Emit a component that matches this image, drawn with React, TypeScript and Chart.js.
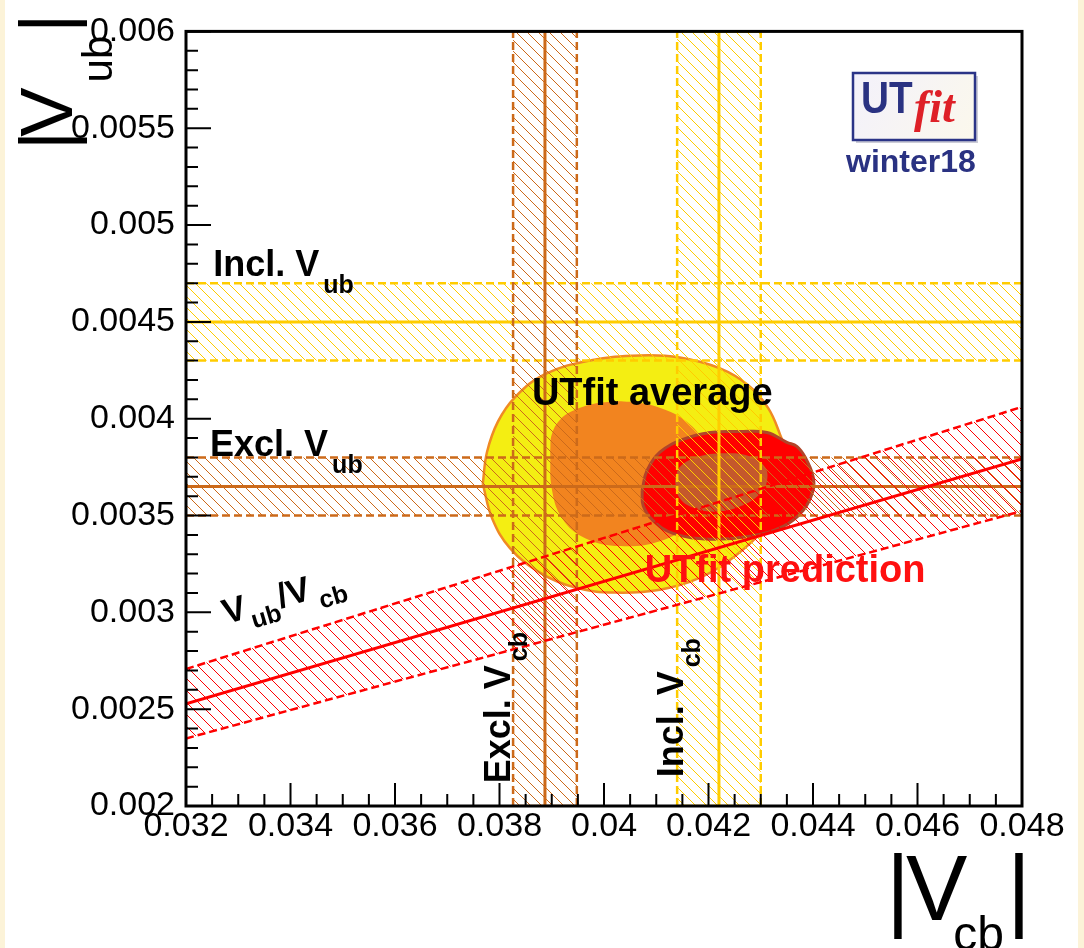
import React, { useEffect, useRef } from "react";
import { Chart, registerables } from "chart.js";

Chart.register(...registerables);

const W = 1084;
const H = 948;
const SANS = "'Liberation Sans', Arial, Helvetica, sans-serif";
const SERIF = "'Liberation Serif', 'Times New Roman', serif";

// Axis ranges and ticks
const X_RANGE = [0.032, 0.048];
const Y_RANGE = [0.002, 0.006];
const X_TICKS = [0.032, 0.034, 0.036, 0.038, 0.04, 0.042, 0.044, 0.046, 0.048];
const X_TICK_LABELS = ["0.032", "0.034", "0.036", "0.038", "0.04", "0.042", "0.044", "0.046", "0.048"];
const Y_TICKS = [0.002, 0.0025, 0.003, 0.0035, 0.004, 0.0045, 0.005, 0.0055, 0.006];
const Y_TICK_LABELS = ["0.002", "0.0025", "0.003", "0.0035", "0.004", "0.0045", "0.005", "0.0055", "0.006"];
const X_MINOR_STEP = 0.0005;
const Y_MINOR_STEP = 0.0001;

// |Vcb| determinations: [central, lower, upper]
const INCL_VCB = [0.0422, 0.0414, 0.043];
const EXCL_VCB = [0.03887, 0.03826, 0.03948];
// |Vub| determinations: [central, lower, upper]
const INCL_VUB = [0.0045, 0.0043, 0.0047];
const EXCL_VUB = [0.00365, 0.0035, 0.0038];
// |Vub|/|Vcb| ratio: [central, lower, upper]
const VUB_VCB_RATIO = [0.079, 0.0734, 0.0846];

// UTfit average, 95% and 68% probability contours (|Vcb|, |Vub|)
const AVG_95: [number, number][] = [
  [0.03768, 0.003663], [0.03776, 0.003827], [0.03797, 0.003985], [0.0383, 0.004112],
  [0.03887, 0.00423], [0.03973, 0.004301], [0.04069, 0.004327], [0.04145, 0.004316],
  [0.04222, 0.00426], [0.04276, 0.004173], [0.04314, 0.004056], [0.04337, 0.003918],
  [0.04356, 0.003765], [0.04346, 0.003587], [0.04308, 0.003434], [0.04251, 0.003291],
  [0.04184, 0.003179], [0.04107, 0.003117], [0.04021, 0.003102], [0.03945, 0.003128],
  [0.03878, 0.003204], [0.0382, 0.003332], [0.03786, 0.003485],
];
const AVG_68: [number, number][] = [
  [0.03897, 0.003832], [0.039, 0.003918], [0.03916, 0.003995], [0.03945, 0.004046],
  [0.03992, 0.004082], [0.0405, 0.004087], [0.04117, 0.004046], [0.04165, 0.003969],
  [0.04193, 0.003867], [0.04207, 0.00374], [0.04199, 0.003587], [0.04165, 0.003459],
  [0.04107, 0.003367], [0.04031, 0.003342], [0.03964, 0.003383], [0.0392, 0.003485],
  [0.039, 0.003638],
];
// UTfit prediction, 95% and 68% probability contours
const PRED_95: [number, number][] = [
  [0.04073, 0.003628], [0.04082, 0.00373], [0.04107, 0.003827], [0.04151, 0.003893],
  [0.04203, 0.003929], [0.0426, 0.003934], [0.04312, 0.003929], [0.0435, 0.003878],
  [0.04369, 0.003857], [0.04385, 0.003801], [0.044, 0.003704], [0.044, 0.003628],
  [0.04381, 0.003526], [0.04343, 0.003444], [0.04279, 0.003393], [0.04203, 0.003378],
  [0.04132, 0.003408], [0.04094, 0.003474], [0.04075, 0.003551],
];
const PRED_68: [number, number][] = [
  [0.04136, 0.003679], [0.04145, 0.00375], [0.04178, 0.003801], [0.04228, 0.003821],
  [0.04279, 0.003806], [0.04308, 0.00375], [0.04312, 0.003679], [0.04299, 0.003612],
  [0.0426, 0.003546], [0.04209, 0.00352], [0.04165, 0.003546], [0.04142, 0.003602],
];

const COL_INCL = "#ffcc00";
const COL_EXCL = "#cc6a1a";
const COL_RATIO = "#ff0000";

type Pt = { x: number; y: number };
const toPts = (arr: [number, number][]): Pt[] => arr.map(([x, y]) => ({ x, y }));
const closed = (pts: Pt[]): Pt[] => [...pts, pts[0]];

// Diagonal "\\\" hatching used for the measurement bands
function hatch(color: string, step = 11): CanvasPattern | string {
  const c = document.createElement("canvas");
  c.width = step;
  c.height = step;
  const g = c.getContext("2d");
  if (!g) return color;
  g.strokeStyle = color;
  g.lineWidth = 1;
  g.beginPath();
  g.moveTo(0, 0);
  g.lineTo(step, step);
  g.moveTo(-1, step - 1);
  g.lineTo(1, step + 1);
  g.moveTo(step - 1, -1);
  g.lineTo(step + 1, 1);
  g.stroke();
  return g.createPattern(c, "repeat") || color;
}

function shape(pts: Pt[], bg: any, border: string, width: number, tension: number) {
  return {
    data: closed(pts),
    fill: "shape",
    backgroundColor: bg,
    borderColor: border,
    borderWidth: width,
    tension,
  };
}

function seg(pts: Pt[], color: string, width: number, dash: number[] = []) {
  return { data: pts, fill: false, borderColor: color, borderWidth: width, borderDash: dash };
}

function verticalBand([c, lo, hi]: number[], color: string) {
  const [y0, y1] = Y_RANGE;
  return [
    shape([{ x: lo, y: y0 }, { x: hi, y: y0 }, { x: hi, y: y1 }, { x: lo, y: y1 }], hatch(color), color, 0, 0),
    seg([{ x: lo, y: y0 }, { x: lo, y: y1 }], color, 2.5, [8, 4]),
    seg([{ x: hi, y: y0 }, { x: hi, y: y1 }], color, 2.5, [8, 4]),
    seg([{ x: lo, y: y0 }, { x: hi, y: y0 }], color, 2.5),
    seg([{ x: lo, y: y1 }, { x: hi, y: y1 }], color, 2.5),
    seg([{ x: c, y: y0 }, { x: c, y: y1 }], color, 3),
  ];
}

function horizontalBand([c, lo, hi]: number[], color: string) {
  const [x0, x1] = X_RANGE;
  return [
    shape([{ x: x0, y: lo }, { x: x1, y: lo }, { x: x1, y: hi }, { x: x0, y: hi }], hatch(color), color, 0, 0),
    seg([{ x: x0, y: lo }, { x: x1, y: lo }], color, 2.5, [8, 4]),
    seg([{ x: x0, y: hi }, { x: x1, y: hi }], color, 2.5, [8, 4]),
    seg([{ x: x0, y: c }, { x: x1, y: c }], color, 3),
  ];
}

function ratioBand([c, lo, hi]: number[], color: string) {
  const [x0, x1] = X_RANGE;
  return [
    shape([{ x: x0, y: x0 * lo }, { x: x1, y: x1 * lo }, { x: x1, y: x1 * hi }, { x: x0, y: x0 * hi }], hatch(color, 12), color, 0, 0),
    seg([{ x: x0, y: x0 * lo }, { x: x1, y: x1 * lo }], color, 2.5, [8, 4]),
    seg([{ x: x0, y: x0 * hi }, { x: x1, y: x1 * hi }], color, 2.5, [8, 4]),
    seg([{ x: x0, y: x0 * c }, { x: x1, y: x1 * c }], color, 3),
  ];
}

interface Piece { t: string; sub?: boolean; dx?: number }
interface RichStyle { size: number; subSize: number; drop: number; weight: string; color: string; family?: string }

// Text with subscripts, drawn along a rotated baseline
function drawRich(ctx: CanvasRenderingContext2D, pieces: Piece[], x: number, y: number, angle: number, s: RichStyle) {
  ctx.save();
  ctx.translate(x, y);
  ctx.rotate(angle);
  ctx.fillStyle = s.color;
  ctx.textAlign = "left";
  ctx.textBaseline = "alphabetic";
  let cx = 0;
  for (const p of pieces) {
    ctx.font = `${s.weight} ${p.sub ? s.subSize : s.size}px ${s.family ?? SANS}`;
    cx += p.dx ?? 0;
    ctx.fillText(p.t, cx, p.sub ? s.drop : 0);
    cx += ctx.measureText(p.t).width;
  }
  ctx.restore();
}

const BAND_LABEL: RichStyle = { size: 36, subSize: 25, drop: 17, weight: "bold", color: "#000" };

const isOn = (v: number, list: number[], step: number) => list.some((t) => Math.abs(t - v) < step / 10);

const framePlugin = {
  id: "frameAndLabels",
  beforeDraw(chart: any) {
    const { ctx } = chart;
    ctx.save();
    ctx.fillStyle = "#ffffff";
    ctx.fillRect(0, 0, W, H);
    ctx.fillStyle = "#fcf3d8";
    ctx.fillRect(0, 0, 5, H);
    ctx.fillRect(W - 6, 0, 6, H);
    ctx.restore();
  },
  afterDatasetsDraw(chart: any) {
    const { ctx, chartArea: a, scales } = chart;
    const xs = scales.x;
    const ys = scales.y;
    ctx.save();
    ctx.strokeStyle = "#000";
    ctx.lineWidth = 2;
    ctx.beginPath();
    const ny = Math.round((Y_RANGE[1] - Y_RANGE[0]) / Y_MINOR_STEP);
    for (let i = 0; i <= ny; i++) {
      const v = Y_RANGE[0] + i * Y_MINOR_STEP;
      const len = isOn(v, Y_TICKS, Y_MINOR_STEP) ? 25 : 12;
      const p = ys.getPixelForValue(v);
      ctx.moveTo(a.left, p);
      ctx.lineTo(a.left + len, p);
    }
    const nx = Math.round((X_RANGE[1] - X_RANGE[0]) / X_MINOR_STEP);
    for (let i = 0; i <= nx; i++) {
      const v = X_RANGE[0] + i * X_MINOR_STEP;
      const len = isOn(v, X_TICKS, X_MINOR_STEP) ? 23 : 12;
      const p = xs.getPixelForValue(v);
      ctx.moveTo(p, a.bottom);
      ctx.lineTo(p, a.bottom - len);
    }
    ctx.stroke();
    ctx.lineWidth = 3;
    ctx.strokeRect(a.left, a.top, a.right - a.left, a.bottom - a.top);
    ctx.restore();

    const px = (v: number) => xs.getPixelForValue(v);
    const py = (v: number) => ys.getPixelForValue(v);

    drawRich(ctx, [{ t: "Incl. V" }, { t: "ub", sub: true, dx: 4 }], px(0.03252), py(0.004735), 0, BAND_LABEL);
    drawRich(ctx, [{ t: "Excl. V" }, { t: "ub", sub: true, dx: 4 }], px(0.03246), py(0.003806), 0, BAND_LABEL);
    drawRich(ctx, [{ t: "Excl. V" }, { t: "cb", sub: true, dx: 4 }], px(0.0382), py(0.002117), -Math.PI / 2, BAND_LABEL);
    drawRich(ctx, [{ t: "Incl. V" }, { t: "cb", sub: true, dx: 4 }], px(0.04151), py(0.002148), -Math.PI / 2, BAND_LABEL);

    const r = VUB_VCB_RATIO[0];
    const ang = Math.atan2(py(X_RANGE[1] * r) - py(X_RANGE[0] * r), px(X_RANGE[1]) - px(X_RANGE[0]));
    drawRich(
      ctx,
      [{ t: "V" }, { t: "ub", sub: true, dx: 2 }, { t: "/V", dx: 1 }, { t: "cb", sub: true, dx: 6 }],
      px(0.03277), py(0.002939), ang,
      { size: 35, subSize: 25, drop: 12, weight: "bold", color: "#000" }
    );

    drawRich(ctx, [{ t: "UTfit average" }], px(0.03862), py(0.004071), 0,
      { size: 38, subSize: 25, drop: 0, weight: "bold", color: "#000" });
    drawRich(ctx, [{ t: "UTfit prediction" }], px(0.04078), py(0.003158), 0,
      { size: 38, subSize: 25, drop: 0, weight: "bold", color: "#ff1010" });
  },
  afterDraw(chart: any) {
    const { ctx } = chart;
    // axis titles
    drawRich(ctx, [{ t: "|" }, { t: "V", dx: -6 }, { t: "ub", sub: true, dx: 5 }, { t: "|", dx: 3 }], 72, 150, -Math.PI / 2,
      { size: 74, subSize: 42, drop: 40, weight: "normal", color: "#000" });
    drawRich(ctx, [{ t: "|" }, { t: "V", dx: -4 }, { t: "cb", sub: true, dx: -14 }, { t: "|", dx: 3 }], 886, 920, 0,
      { size: 92, subSize: 48, drop: 30, weight: "normal", color: "#000" });

    // UTfit logo
    ctx.save();
    ctx.fillStyle = "rgba(110,110,140,0.35)";
    ctx.fillRect(856, 76, 122, 67);
    const grad = ctx.createLinearGradient(853, 73, 975, 140);
    grad.addColorStop(0, "#f3f1fb");
    grad.addColorStop(1, "#fbf8ec");
    ctx.fillStyle = grad;
    ctx.fillRect(853, 73, 122, 67);
    ctx.strokeStyle = "#2b3487";
    ctx.lineWidth = 2.5;
    ctx.strokeRect(853, 73, 122, 67);
    ctx.fillStyle = "#2a3282";
    ctx.textAlign = "left";
    ctx.textBaseline = "alphabetic";
    ctx.save();
    ctx.translate(861, 113);
    ctx.scale(0.86, 1);
    ctx.font = `bold 45px ${SANS}`;
    ctx.fillText("UT", 0, 0);
    ctx.restore();
    ctx.fillStyle = "#de2027";
    ctx.font = `italic bold 46px ${SERIF}`;
    ctx.fillText("fit", 914, 122);
    ctx.fillStyle = "#2a3282";
    ctx.font = `bold 32px ${SANS}`;
    ctx.fillText("winter18", 846, 172);
    ctx.restore();
  },
};

export default function App() {
  const ref = useRef<HTMLCanvasElement | null>(null);

  useEffect(() => {
    const canvas = ref.current;
    if (!canvas) return;

    const datasets: any[] = [
      shape(toPts(AVG_95), "#f4ee12", "#f08a24", 2.5, 0.4),
      shape(toPts(AVG_68), "#f2841f", "#f2841f", 0, 0.4),
      shape(toPts(PRED_95), "#ff0000", "#b0452a", 3, 0.4),
      shape(toPts(PRED_68), "#c4582c", "#c4582c", 0, 0.4),
      ...horizontalBand(INCL_VUB, COL_INCL),
      ...horizontalBand(EXCL_VUB, COL_EXCL),
      ...verticalBand(EXCL_VCB, COL_EXCL),
      ...verticalBand(INCL_VCB, COL_INCL),
      ...ratioBand(VUB_VCB_RATIO, COL_RATIO),
    ].map((d, i) => ({ ...d, order: -i, pointRadius: 0, pointHoverRadius: 0 }));

    const tickFont = { family: SANS, size: 34 };

    const chart = new Chart(canvas, {
      type: "line",
      data: { datasets },
      options: {
        animation: false,
        responsive: false,
        devicePixelRatio: 1,
        events: [],
        layout: { padding: { top: 22, right: 62, left: 0, bottom: 0 } },
        plugins: { legend: { display: false }, tooltip: { enabled: false } },
        scales: {
          x: {
            type: "linear",
            min: X_RANGE[0],
            max: X_RANGE[1],
            grid: { display: false, drawTicks: false },
            border: { display: false },
            afterBuildTicks: (s: any) => {
              s.ticks = X_TICKS.map((v) => ({ value: v }));
            },
            afterFit: (s: any) => {
              s.height = 142;
            },
            ticks: {
              autoSkip: false,
              maxRotation: 0,
              minRotation: 0,
              padding: 0,
              color: "#000",
              font: tickFont,
              callback: (_v: any, i: number) => X_TICK_LABELS[i],
            },
          },
          y: {
            type: "linear",
            min: Y_RANGE[0],
            max: Y_RANGE[1],
            grid: { display: false, drawTicks: false },
            border: { display: false },
            afterBuildTicks: (s: any) => {
              s.ticks = Y_TICKS.map((v) => ({ value: v }));
            },
            afterFit: (s: any) => {
              s.width = 186;
            },
            ticks: {
              autoSkip: false,
              padding: 11,
              color: "#000",
              font: tickFont,
              callback: (_v: any, i: number) => Y_TICK_LABELS[i],
            },
          },
        },
      } as any,
      plugins: [framePlugin],
    });

    return () => chart.destroy();
  }, []);

  return (
    <div style={{ position: "fixed", left: 0, top: 0, width: W, height: H, background: "#fff" }}>
      <canvas ref={ref} width={W} height={H} style={{ display: "block", width: W, height: H }} />
    </div>
  );
}
